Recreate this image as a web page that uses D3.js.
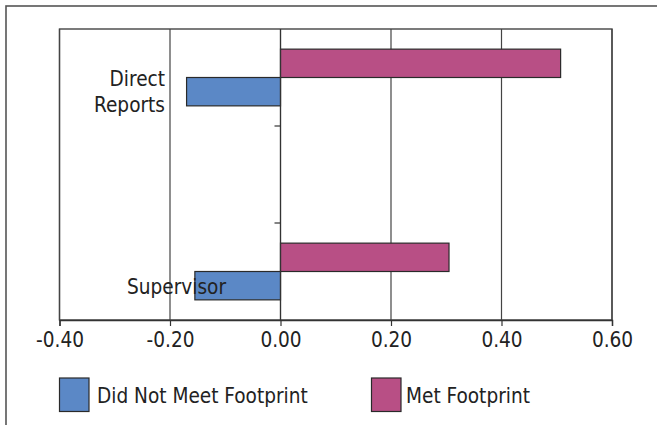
<!DOCTYPE html>
<html>
<head>
<meta charset="utf-8">
<script src="https://cdn.jsdelivr.net/npm/d3@7"></script>
<style>
  html, body { margin: 0; padding: 0; background: #fff; }
  svg { display: block; }
  text { font-family: "DejaVu Sans Condensed", "DejaVu Sans", sans-serif; font-stretch: condensed; fill: #222; }
</style>
</head>
<body>
<svg id="chart" width="657" height="425"></svg>
<script>
// ---- data ----
const categories = ["Direct Reports", "", "Supervisor"];
const seriesNames = ["Did Not Meet Footprint", "Met Footprint"];
const didNotMeet = [-0.17, null, -0.155];
const metFootprint = [0.507, null, 0.305];
const xTicks = [-0.40, -0.20, 0.00, 0.20, 0.40, 0.60];
const colors = ["#5B88C6", "#B84F85"];

// ---- layout ----
const FS = "20.6px";
const svg = d3.select("#chart");
const plot = { left: 59.5, right: 612, top: 29, bottom: 320 };

const x = d3.scaleLinear().domain([-0.4, 0.6]).range([plot.left, plot.right]);
const y = d3.scaleBand().domain(categories.map((c, i) => i)).range([plot.top, plot.bottom]).padding(0);
const inner = d3.scaleBand().domain(["met", "did"]).range([0, y.bandwidth()]).paddingInner(0).paddingOuter(0.71);

// outer border
svg.append("rect").attr("x", 6).attr("y", 6).attr("width", 720).attr("height", 500)
  .attr("fill", "none").attr("stroke", "#555").attr("stroke-width", 1.6);

// vertical gridlines
svg.append("g").selectAll("line").data(xTicks).join("line")
  .attr("x1", d => x(d)).attr("x2", d => x(d))
  .attr("y1", plot.top).attr("y2", plot.bottom)
  .attr("stroke", "#444").attr("stroke-width", 1.2);

// plot frame
svg.append("rect").attr("x", plot.left).attr("y", plot.top)
  .attr("width", plot.right - plot.left).attr("height", plot.bottom - plot.top)
  .attr("fill", "none").attr("stroke", "#444").attr("stroke-width", 1.4);

// bars
const rows = categories.map((c, i) => ({ i, did: didNotMeet[i], met: metFootprint[i] }));
const barsG = svg.append("g");
rows.forEach(r => {
  if (r.met != null) {
    barsG.append("rect")
      .attr("x", x(Math.min(0, r.met))).attr("width", Math.abs(x(r.met) - x(0)))
      .attr("y", y(r.i) + inner("met")).attr("height", inner.bandwidth())
      .attr("fill", colors[1]).attr("stroke", "#2a2a2a").attr("stroke-width", 1.2);
  }
  if (r.did != null) {
    barsG.append("rect")
      .attr("x", x(Math.min(0, r.did))).attr("width", Math.abs(x(r.did) - x(0)))
      .attr("y", y(r.i) + inner("did")).attr("height", inner.bandwidth())
      .attr("fill", colors[0]).attr("stroke", "#2a2a2a").attr("stroke-width", 1.2);
  }
});

// category axis at x=0 with ticks between categories
const x0 = x(0);
svg.append("line").attr("x1", x0).attr("x2", x0).attr("y1", plot.top).attr("y2", plot.bottom)
  .attr("stroke", "#333").attr("stroke-width", 1.2);
svg.append("g").selectAll("line").data(categories.slice(1).map((c, i) => i + 1)).join("line")
  .attr("x1", x0 - 6).attr("x2", x0)
  .attr("y1", d => y(d)).attr("y2", d => y(d))
  .attr("stroke", "#333").attr("stroke-width", 1.2);

// category labels
const labelG = svg.append("g").style("font-size", FS);
const dr = labelG.append("text").attr("text-anchor", "end")
  .attr("x", 165).attr("y", y.bandwidth() / 2 + y(0) + 8.5);
dr.append("tspan").attr("x", 165).text(categories[0].split(" ")[0]);
dr.append("tspan").attr("x", 165).attr("dy", 25.7).text(categories[0].split(" ")[1]);
labelG.append("text").attr("text-anchor", "middle")
  .attr("x", 176.5).attr("y", y(2) + y.bandwidth() / 2 + 22)
  .text(categories[2]);

// x axis
const fmt = d => d3.format(".2f")(d).replace("\u2212", "-");
const xAxis = d3.axisBottom(x).tickValues(xTicks).tickFormat(fmt).tickSize(6).tickPadding(4);
const gx = svg.append("g").attr("transform", `translate(0,${plot.bottom})`).call(xAxis);
gx.select(".domain").attr("stroke", "#333").attr("stroke-width", 1.4);
gx.selectAll(".tick line").attr("stroke", "#333").attr("stroke-width", 1.2);
gx.selectAll(".tick text").attr("font-family", null).style("font-size", FS).attr("fill", "#222")
  .attr("dy", null).attr("y", 26.7);

// legend
const legend = [
  { name: seriesNames[0], color: colors[0], sx: 59.5, tx: 97 },
  { name: seriesNames[1], color: colors[1], sx: 371.5, tx: 406 }
];
const lg = svg.append("g");
legend.forEach(l => {
  lg.append("rect").attr("x", l.sx).attr("y", 378).attr("width", 29.5).attr("height", 33.5)
    .attr("fill", l.color).attr("stroke", "#2a2a2a").attr("stroke-width", 1.2);
  lg.append("text").attr("x", l.tx).attr("y", 403.3).style("font-size", FS).text(l.name);
});
</script>
</body>
</html>
